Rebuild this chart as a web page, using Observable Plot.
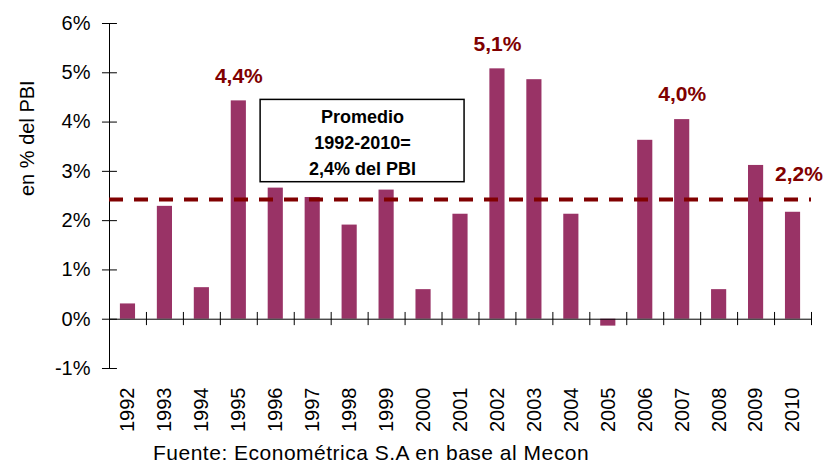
<!DOCTYPE html>
<html>
<head>
<meta charset="utf-8">
<script src="https://cdn.jsdelivr.net/npm/d3@7"></script>
<script src="https://cdn.jsdelivr.net/npm/@observablehq/plot@0.6"></script>
<style>
  html, body { margin: 0; padding: 0; background: #fff; }
  body { width: 823px; height: 467px; overflow: hidden; font-family: "Liberation Sans", Arial, sans-serif; }
  #caption { font-size: 21px; line-height: 22px; padding-top: 2px; padding-left: 153px; letter-spacing: 0.5px; color: #000; white-space: nowrap; }
</style>
</head>
<body>
<div id="chart"></div>
<div id="caption"></div>
<script>
// ---- data ----
const years = [1992, 1993, 1994, 1995, 1996, 1997, 1998, 1999, 2000, 2001, 2002, 2003, 2004, 2005, 2006, 2007, 2008, 2009, 2010];
const values = [0.31, 2.29, 0.64, 4.43, 2.66, 2.47, 1.91, 2.62, 0.60, 2.13, 5.08, 4.86, 2.13, -0.14, 3.63, 4.05, 0.60, 3.12, 2.17];
const average = 2.43;
const labelYears = [1995, 2002, 2007, 2010];
const labelTexts = ["4,4%", "5,1%", "4,0%", "2,2%"];
const yTicks = [-1, 0, 1, 2, 3, 4, 5, 6];
const yTitle = "en % del PBI";
const boxLines = ["Promedio", "1992-2010=", "2,4% del PBI"];
const captionText = "Fuente: Econométrica S.A en base al Mecon";

// ---- derived tables ----
const data = years.map((year, i) => ({year, value: values[i]}));
const labels = labelYears.map((year, i) => ({year, value: values[years.indexOf(year)], text: labelTexts[i]}));
const mainLabels = labels.filter(d => d.year !== 2010);
const lastLabel = labels.filter(d => d.year === 2010);
const x0 = years[0] - 0.5, x1 = years[years.length - 1] + 0.5;
const boundaries = years.map(y => y - 0.5).concat([x1]);

const font = "'Liberation Sans', Arial, sans-serif";
const barColor = "#993366";
const red = "#800000";
const halfBar = 0.205;

// annotation box, expressed in data units
const box = [{x1: 1995.59, x2: 2001.11, y1: 2.78, y2: 4.45}];

const plot = Plot.plot({
  width: 823,
  height: 440,
  marginTop: 23,
  marginBottom: 72,
  marginLeft: 109,
  marginRight: 12,
  style: {fontFamily: font, fontSize: "20px", color: "#000", background: "#fff"},
  x: {type: "linear", domain: [x0, x1], axis: null},
  y: {domain: [-1, 6], axis: null},
  marks: [
    Plot.rectY(data, {x1: d => d.year - halfBar, x2: d => d.year + halfBar, y1: 0, y2: "value", fill: barColor}),
    // y axis line and ticks
    Plot.ruleX([x0], {y1: -1, y2: 6, stroke: "#000", strokeWidth: 1}),
    Plot.ruleY(yTicks, {y: d => d, x1: x0 - 0.19, x2: x0 + 0.215, stroke: "#000", strokeWidth: 1}),
    Plot.axisY(yTicks, {tickSize: 0, tickPadding: 19, tickFormat: d => `${d}%`, fontSize: 20, label: null}),
    // x axis line at zero, boundary ticks
    Plot.ruleY([0], {x1: x0, x2: x1, stroke: "#000", strokeWidth: 1}),
    Plot.ruleX(boundaries, {x: d => d, y1: -0.13, y2: 0.137, stroke: "#000", strokeWidth: 1}),
    Plot.axisX(years, {tickSize: 0, tickPadding: 19, tickRotate: -90, tickFormat: d => String(d), fontSize: 20, label: null}),
    // y title
    Plot.text([yTitle], {frameAnchor: "left", dx: -82, rotate: -90, text: d => d, fontSize: 20, fill: "#000"}),
    // average dashed line
    Plot.ruleY([average], {stroke: red, strokeWidth: 4, strokeDasharray: "14,11"}),
    // annotation box
    Plot.rect(box, {x1: "x1", x2: "x2", y1: "y1", y2: "y2", fill: "#fff", stroke: "#000", strokeWidth: 1.5}),
    Plot.text([boxLines.join("\n")], {
      x: (box[0].x1 + box[0].x2) / 2, y: (box[0].y1 + box[0].y2) / 2,
      text: d => d, fontSize: 18, fontWeight: "bold", lineHeight: 1.45, fill: "#000",
      letterSpacing: "0.8px"
    }),
    // value labels
    Plot.text(mainLabels, {x: "year", y: "value", text: "text", dy: -25, fontSize: 21, fontWeight: "bold", fill: red, letterSpacing: "0.5px"}),
    Plot.text(lastLabel, {x: "year", y: "value", text: "text", dy: -38, dx: 6, fontSize: 21, fontWeight: "bold", fill: red, letterSpacing: "0.5px"})
  ]
});

document.getElementById("chart").appendChild(plot);
document.getElementById("caption").textContent = captionText;
</script>
</body>
</html>
